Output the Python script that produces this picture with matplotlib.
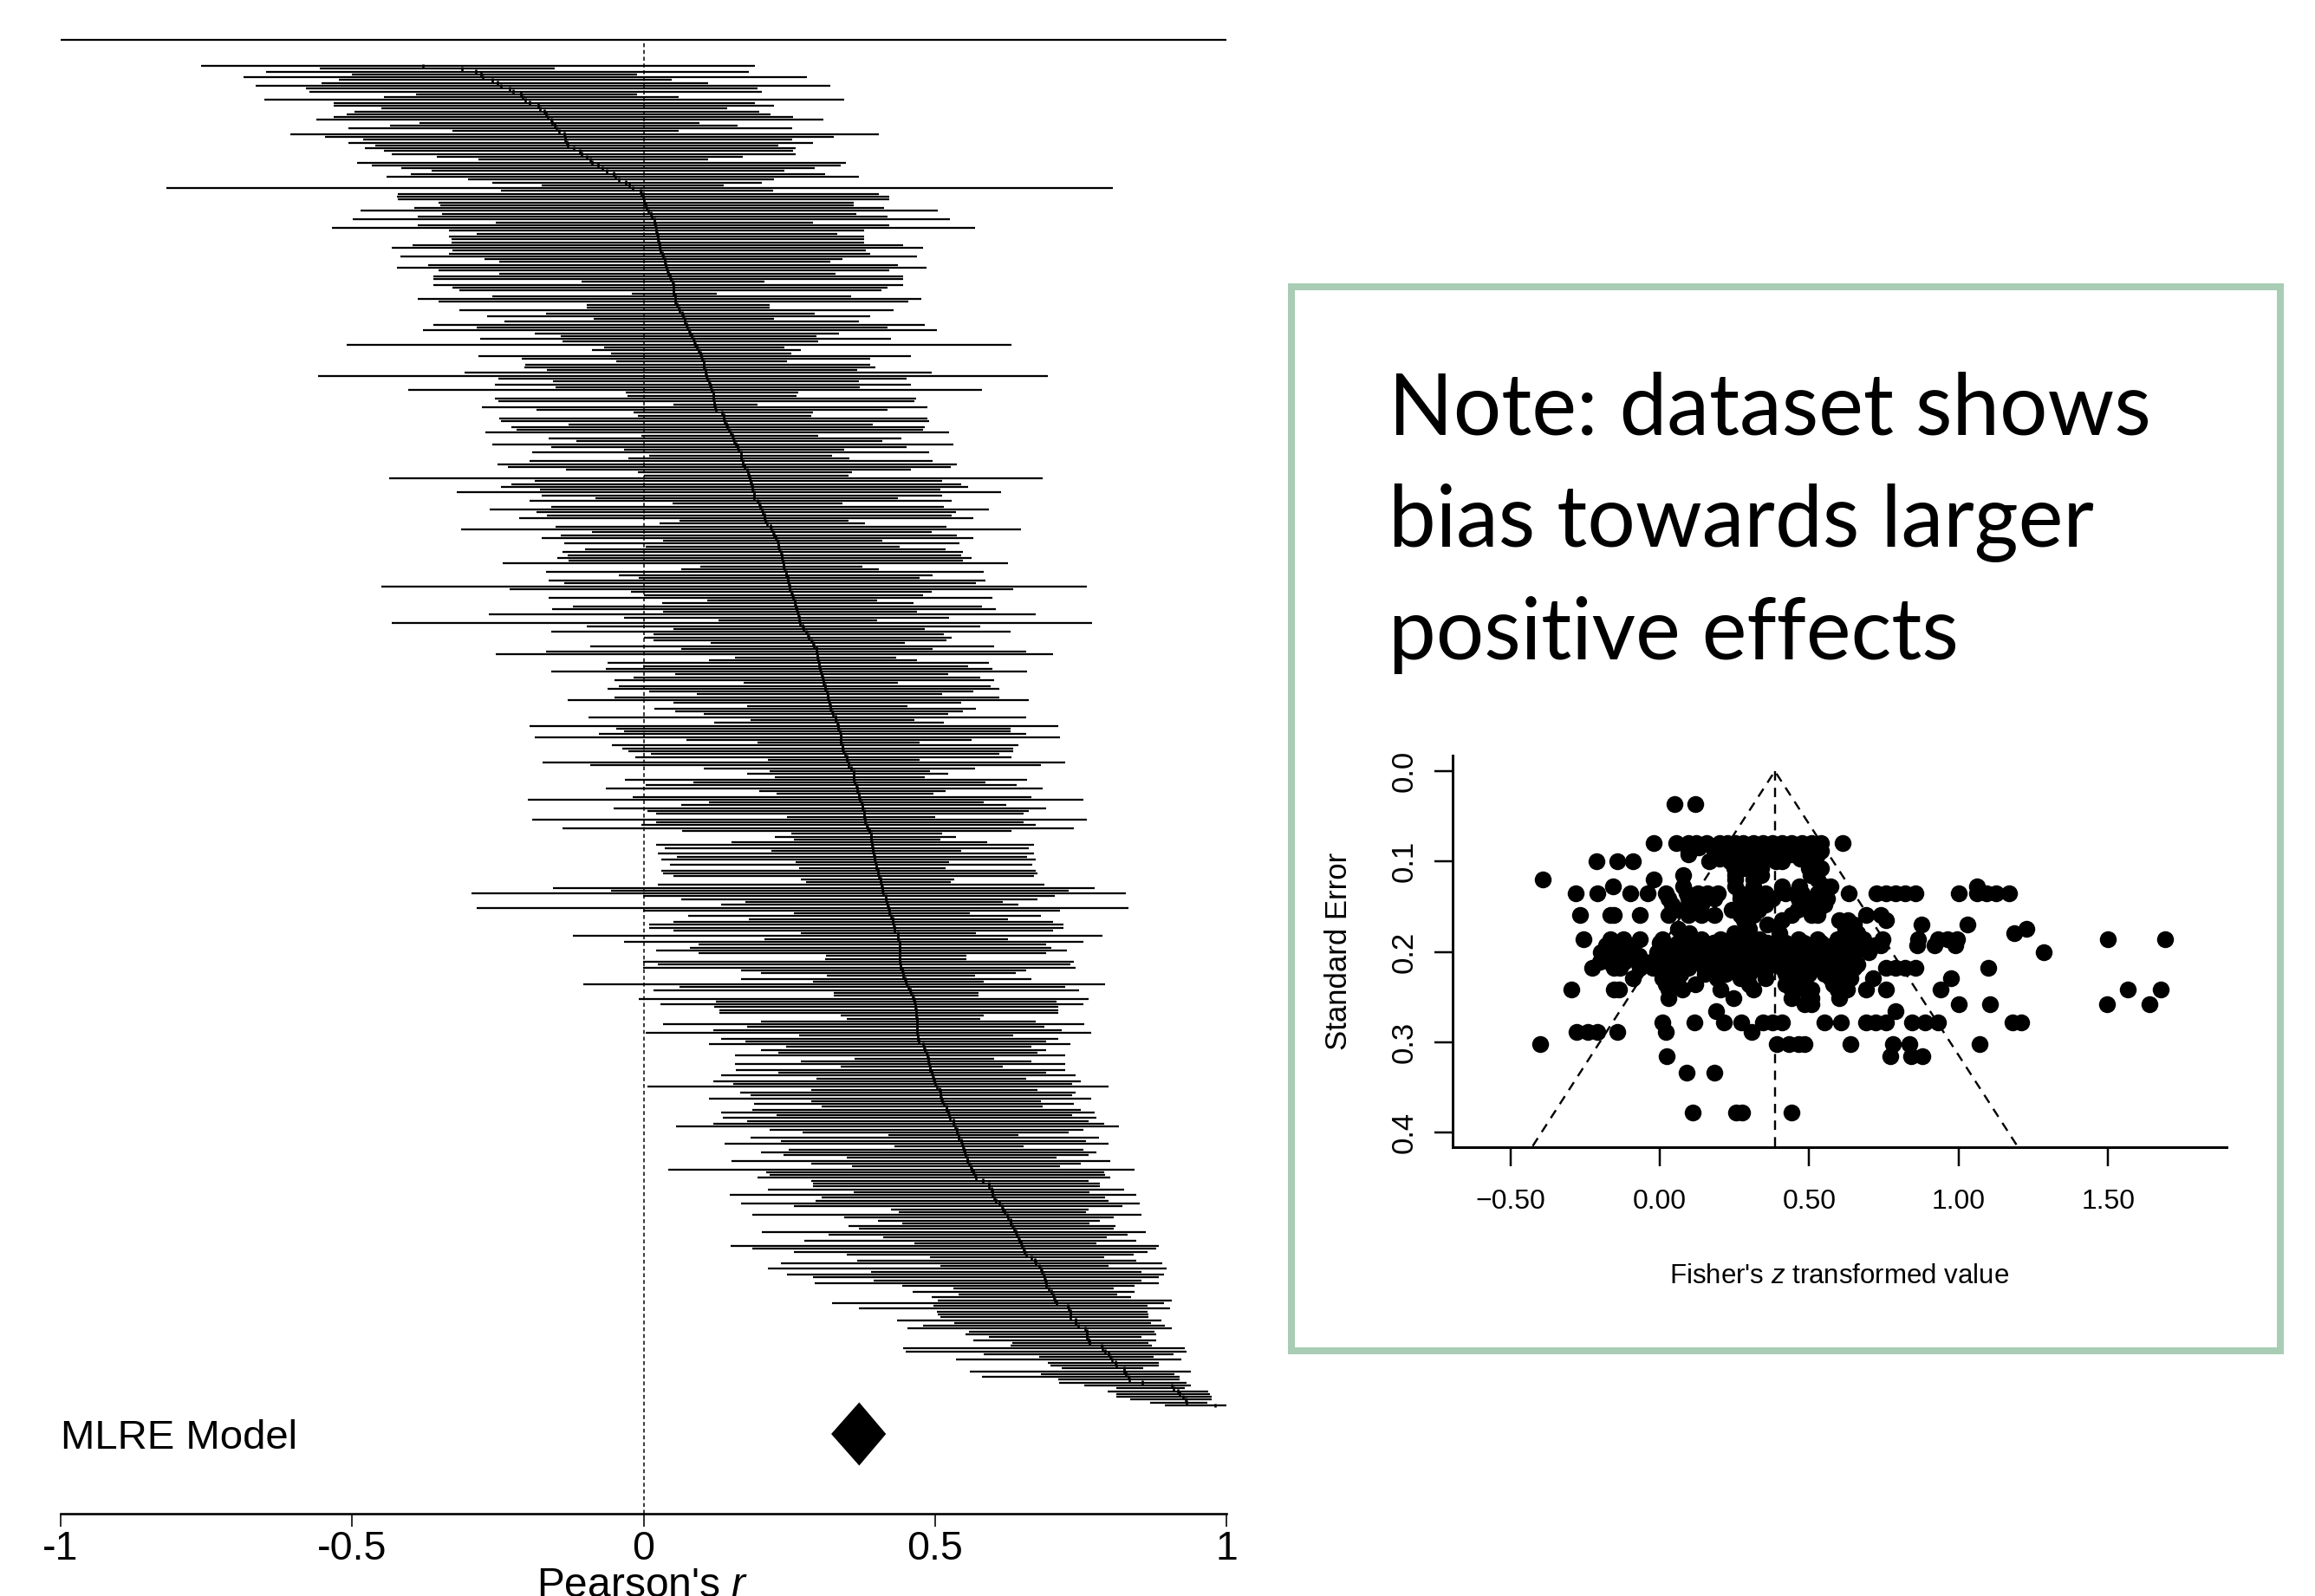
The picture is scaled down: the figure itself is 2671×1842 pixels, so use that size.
import numpy as np
import matplotlib
matplotlib.use("Agg")
import matplotlib.pyplot as plt
from matplotlib.patches import Rectangle

# ---------- forest plot data (Pearson's r), one entry per study, top to bottom ----------
r_lower = [
-.759,-.555,-.648,-.501,-.686,-.522,-.552,-.666,-.579,-.573,
-.390,-.446,-.651,-.532,-.532,-.450,-.496,-.510,-.532,-.561,
-.385,-.435,-.506,-.328,-.606,-.546,-.481,-.506,-.460,-.478,
-.446,-.432,-.355,-.283,-.492,-.466,-.415,-.364,-.399,-.441,
-.301,-.259,-.175,-.819,
-.245,-.422,-.423,-.421,-.352,-.349,-.394,-.486,-.346,-.388,
-.499,-.254,-.388,-.534,-.334,-.286,-.334,-.330,-.330,-.397,
-.432,-.328,-.334,-.417,-.273,-.247,-.370,-.423,-.352,-.247,
-.361,-.361,-.107,-.361,-.328,-.316,-.020,-.259,-.388,-.352,
-.098,-.098,-.316,-.168,-.268,-.085,-.239,-.361,-.286,-.379,
-.186,-.142,-.281,-.139,-.510,-.068,
-.088,-.056,-.283,-.209,-.047,-.203,-.205,-.166,-.307,-.559,
-.249,-.156,-.255,-.151,-.403,-.031,-.028,-.255,-.249,.052,
-.277,-.184,-.017,-.010,-.247,-.245,-.128,-.227,-.218,-.272,
-.004,-.163,-.115,-.259,-.159,-.034,-.191,.010,-.026,-.195,
-.250,-.232,-.133,-.010,0,-.437,-.186,-.227,-.245,-.177,
-.321,-.175,-.083,-.195,.050,-.159,-.264,-.184,-.166,-.213,
.061,.028,-.151,-.313,-.088,-.142,-.175,.034,-.136,.004,
-.101,-.139,-.130,-.148,-.128,-.241,.097,.065,-.168,-.043,
-.008,-.163,-.136,-.450,-.230,-.022,.001,-.163,.110,.032,
-.121,-.157,.034,-.265,-.034,.128,-.432,-.097,.052,-.159,
.017,.001,.017,
.115,-.092,.065,-.168,-.254,.157,.112,-.061,-.001,-.065,
-.159,.055,-.017,-.050,.172,-.043,-.061,.010,.091,-.050,
-.130,.052,.177,.019,.055,.103,-.094,.184,.121,-.195,
-.047,-.034,-.077,-.186,.074,.195,-.055,-.037,-.026,.013,
-.014,.213,-.173,-.092,.103,.217,.177,.226,-.032,.085,
.004,-.065,.199,.228,-.019,-.199,.112,.065,-.052,.006,
.022,.246,-.191,.022,-.004,-.139,.066,.253,.226,.258,
.151,.022,.037,.219,.024,.057,.031,.261,.046,.267,
.031,.033,.052,.270,.279,.024,-.156,-.056,-.295,-.001,
.065,.175,.133,-.286,-.001,.258,.077,.181,.052,.010,
.010,.052,.270,
-.121,.208,-.034,.094,.079,.022,.094,.313,.311,-.001,
.024,-.001,.168,.202,.315,.168,.291,-.103,.061,.017,
.327,.327,-.008,.124,.029,.121,.130,.130,.339,.348,
.202,.034,.177,.119,.004,.267,.133,.175,.112,.244,
.202,.231,.157,.362,.270,.157,.338,.159,.231,.133,
.297,.119,.154,.006,.288,.166,.184,.112,.288,.190,
.306,.186,.133,.228,.136,.177,.119,.056,.217,.273,
.420,.184,.235,.139,.431,.249,.202,.240,.348,.151,
.288,.357,.043,.210,.217,.195,.288,.291,.291,.213,
.360,.148,.306,.295,.168,.258,.425,.438,.186,.344,
.402,.444,.351,.369,
.203,.318,.411,.276,.464,.149,.186,.258,.348,.491,
.366,.235,.509,.213,.390,.246,.291,.395,.293,.444,
.531,.462,.540,.495,.505,.324,.497,.369,.504,.505,
.509,.435,.533,.480,.453,.559,.552,.593,.566,.633,
.629,.446,.450,.584,.679,.536,.693,.698,.718,.560,
.682,.580,.712,.713,.756,.811,.796,.811,.811,.835,
.869,.894]

r_upper = [
.191,-.152,.180,-.011,.281,.048,.111,.320,.195,.203,
-.011,.060,.344,.191,.224,.144,.198,.218,.256,.309,
.096,.162,.255,.060,.404,.327,.255,.290,.231,.261,
.256,.261,.171,.111,.347,.338,.293,.242,.311,.369,
.224,.203,.138,.805,
.222,.404,.422,.422,.360,.360,.413,.505,.365,.418,
.526,.291,.422,.569,.378,.333,.378,.378,.378,.446,
.480,.381,.389,.469,.342,.320,.436,.485,.422,.329,
.445,.445,.207,.445,.418,.408,.126,.356,.476,.454,
.216,.216,.429,.293,.389,.224,.369,.482,.418,.503,
.335,.296,.425,.300,.631,.242,
.270,.253,.458,.389,.246,.389,.398,.366,.494,.694,
.452,.369,.458,.371,.580,.265,.263,.467,.464,.195,
.487,.418,.291,.288,.487,.490,.393,.482,.480,.524,
.300,.443,.409,.531,.452,.344,.490,.324,.353,.496,
.538,.527,.458,.357,.351,.685,.513,.545,.557,.509,
.614,.513,.436,.529,.342,.515,.593,.536,.529,.566,
.351,.380,.520,.647,.494,.538,.566,.409,.542,.440,
.518,.548,.545,.563,.548,.625,.375,.404,.584,.496,
.473,.587,.571,.760,.634,.494,.480,.598,.401,.463,
.580,.605,.469,.673,.524,.401,.769,.578,.482,.629,
.515,.529,.520,
.449,.602,.496,.656,.703,.434,.469,.593,.557,.598,
.658,.522,.578,.602,.436,.596,.611,.566,.513,.611,
.661,.545,.453,.571,.548,.522,.656,.464,.515,.712,
.629,.629,.656,.714,.563,.473,.643,.634,.634,.611,
.631,.473,.723,.682,.569,.491,.522,.482,.658,.587,
.640,.685,.518,.497,.665,.754,.584,.622,.691,.661,
.652,.500,.760,.652,.673,.739,.631,.513,.536,.509,
.589,.670,.661,.545,.670,.658,.673,.524,.667,.518,
.673,.676,.670,.533,.527,.688,.774,.730,.828,.705,
.676,.616,.643,.832,.714,.560,.682,.625,.703,.721,
.721,.703,.571,
.787,.625,.754,.691,.700,.727,.691,.554,.554,.739,
.732,.741,.656,.638,.569,.665,.584,.792,.723,.747,
.575,.575,.763,.709,.754,.712,.712,.712,.584,.578,
.673,.756,.688,.718,.768,.634,.712,.691,.732,.665,
.691,.676,.723,.602,.665,.723,.616,.723,.691,.741,
.656,.750,.736,.798,.676,.741,.736,.768,.682,.739,
.685,.750,.774,.736,.777,.763,.790,.816,.754,.730,
.643,.781,.759,.798,.652,.754,.777,.763,.709,.801,
.750,.714,.843,.790,.792,.801,.763,.783,.783,.825,
.765,.846,.792,.798,.852,.821,.763,.759,.855,.807,
.783,.765,.810,.807,
.861,.830,.795,.846,.777,.884,.879,.864,.841,.790,
.846,.890,.798,.897,.855,.893,.884,.855,.884,.843,
.807,.843,.813,.837,.906,.893,.864,.904,.864,.866,
.866,.888,.870,.895,.906,.876,.879,.855,.879,.866,
.872,.929,.932,.909,.875,.923,.884,.884,.857,.939,
.911,.920,.920,.932,.939,.929,.969,.972,.974,.974,
.968,1.0]

r_est = [
-.379,-.311,-.288,-.279,-.276,-.260,-.250,-.245,-.230,-.224,
-.210,-.208,-.203,-.196,-.180,-.177,-.171,-.168,-.165,-.158,
-.157,-.153,-.149,-.145,-.136,-.135,-.134,-.131,-.130,-.120,
-.110,-.106,-.098,-.091,-.088,-.078,-.070,-.063,-.051,-.048,
-.043,-.031,-.024,-.018,
-.005,-.003,-.001,0,.001,.004,.005,.008,.013,.014,
.018,.019,.020,.022,.022,.023,.024,.024,.026,.027,
.028,.029,.032,.033,.036,.037,.038,.040,.041,.043,
.046,.047,.050,.051,.052,.052,.052,.054,.055,.055,
.057,.060,.061,.066,.068,.070,.071,.073,.075,.078,
.079,.082,.085,.087,.088,.091,
.094,.098,.099,.101,.103,.103,.103,.106,.106,.108,
.110,.112,.114,.115,.117,.119,.119,.120,.121,.121,
.122,.124,.135,.138,.138,.139,.142,.143,.147,.149,
.152,.154,.156,.158,.162,.163,.167,.168,.168,.170,
.171,.173,.177,.179,.180,.182,.184,.185,.186,.187,
.189,.189,.190,.195,.198,.200,.203,.204,.207,.208,
.209,.212,.218,.219,.223,.224,.227,.230,.231,.231,
.232,.235,.237,.237,.239,.240,.240,.242,.244,.245,
.247,.247,.249,.250,.251,.254,.255,.256,.259,.260,
.261,.263,.264,.265,.267,.267,.269,.273,.274,.279,
.282,.284,.287,
.290,.292,.296,.297,.298,.298,.300,.301,.301,.302,
.304,.305,.307,.309,.309,.311,.311,.314,.316,.316,
.318,.319,.320,.321,.324,.325,.329,.330,.333,.334,
.334,.337,.338,.338,.339,.339,.341,.342,.343,.346,
.348,.349,.351,.352,.356,.360,.360,.361,.361,.362,
.365,.367,.367,.369,.370,.371,.374,.375,.376,.378,
.379,.379,.380,.380,.383,.384,.388,.390,.390,.390,
.392,.392,.393,.394,.395,.397,.397,.398,.399,.399,
.402,.402,.403,.406,.407,.408,.409,.409,.411,.415,
.416,.417,.418,.420,.421,.422,.425,.427,.427,.429,
.430,.431,.436,
.437,.437,.439,.439,.439,.439,.439,.439,.440,.440,
.441,.441,.444,.445,.446,.448,.450,.452,.454,.457,
.458,.462,.463,.464,.466,.466,.467,.468,.468,.469,
.469,.469,.469,.469,.469,.471,.471,.472,.480,.481,
.483,.485,.487,.489,.489,.490,.491,.492,.494,.496,
.497,.499,.500,.503,.508,.509,.510,.511,.513,.515,
.519,.520,.523,.524,.526,.531,.532,.534,.537,.538,
.540,.541,.545,.547,.548,.550,.551,.552,.555,.556,
.559,.561,.563,.566,.569,.570,.582,.592,.593,.597,
.598,.599,.602,.605,.610,.615,.616,.620,.624,.626,
.629,.630,.633,.635,
.639,.640,.643,.644,.647,.649,.652,.654,.657,.665,
.671,.673,.679,.682,.684,.686,.688,.689,.690,.691,
.695,.699,.702,.704,.705,.709,.728,.730,.732,.733,
.733,.741,.742,.745,.758,.760,.760,.761,.763,.765,
.786,.787,.792,.798,.800,.804,.809,.811,.824,.825,
.828,.832,.834,.856,.907,.909,.917,.920,.926,.930,
.931,.980]

model_est = 0.37
model_lo = 0.322
model_hi = 0.416
forest_ticks = [-1, -0.5, 0, 0.5, 1]
forest_ticklabels = ['-1', '-0.5', '0', '0.5', '1']

# ---------- funnel plot data: standard error level and Fisher's z values read at that level ----------
se_levels = [.036,.08,.088,.0925,.1,.115,.12,.128,.135,.141,.148,.159,.165,.17,.175,.179,.186,.193,.2,.207,
             .214,.218,.229,.236,.242,.251,.258,.266,.278,.289,.302,.316,.334,.378,
             .084,.097,.107,.153,.19,.197,.204,.211,.224]
z_by_level = [
[.05,.12],
[-.02,.056,.095,.121,.156,.199,.225,.251,.277,.312,.345,.377,.41,.442,.475,.507,.54,.611],
[.095,.182,.236,.29,.399,.442,.485,.54],
[.095,.225,.29,.388,.442,.529],
[-.212,-.143,-.089,.165,.236,.306,.388,.41],
[.078,.251,.338,.505],
[-.392,-.02,.251,.312,.529],
[-.156,.078,.251,.312,.41,.468,.55,.572,1.06],
[-.28,-.21,-.098,-.041,.02,.091,.128,.16,.193,.269,.323,.355,.42,.475,.529,.631,.724,.756,.789,.821,.854,1.001,1.06,1.092,1.125,1.168],
[.03,.095,.182,.269,.312,.377,.464,.529,.56],
[.04,.139,.29,.355,.507,.55],
[-.267,-.165,-.154,-.067,.03,.095,.139,.182,.269,.312,.442,.507,.529,.69,.74],
[.756,.6,.28,.41,.63],
[.875,1.03,.65,.36],
[1.226,.06,.30,.62],
[1.185,.25,.10,.40,.66],
[-.255,-.165,-.121,-.067,.009,.074,.139,.204,.269,.334,.399,.464,.529,.594,.68,.746,.865,.93,.962,.995,1.5,1.69],
[-.18,-.14,-.1,.01,.05,.11,.16,.22,.27,.33,.39,.44,.5,.55,.61,.66,.72,.74,.86,.92,.99],
[-.197,-.143,-.10,-.01,.03,.08,.14,.2,.25,.29,.34,.4,.45,.49,.55,.6,.65,.7,1.283],
[-.18,-.13,.03,.09,.15,.21,.27,.33,.39,.45,.51,.57,.62],
[-.16,-.13,-.07,.0,.04,.1,.16,.22,.27,.32,.38,.43,.49,.55,.6,.66],
[-.226,-.154,-.133,-.067,-.024,.03,.095,.149,.204,.269,.355,.41,.464,.529,.594,.65,.756,.789,.821,.854,1.1],
[-.089,.009,.04,.19,.269,.355,.464,.572,.637,.713,.973],
[.02,.06,.12,.3,.42,.58,.62],
[-.295,-.154,-.137,.03,.074,.204,.312,.442,.485,.507,.594,.626,.69,.756,.94,1.565,1.677],
[.03,.247,.442,.507,.6],
[.485,.507,1.0,1.106,1.495,1.638],
[.188,.789],
[.009,.117,.214,.273,.345,.377,.41,.551,.605,.69,.722,.756,.843,.887,.93,1.179,1.21],
[-.277,-.241,-.208,-.141,.02,.306],
[-.4,.392,.431,.464,.485,.637,.78,.835,1.07],
[.024,.77,.842,.879],
[.089,.182],
[.111,.254,.276,.442],
[.13,.21,.26,.32,.36,.42,.46,.5],
[.2,.26,.33,.36,.4,.47,.52],
[.25,.28,.31,.34,.5,.54],
[.06,.1,.24,.27,.31,.33,.46,.5,.53],
[.0,.06,.12,.18,.24,.3,.36,.42,.48,.54,.6,.64],
[-.15,.0,.06,.11,.17,.23,.28,.36,.42,.47,.53,.58,.63,.67],
[-.16,-.07,.02,.06,.12,.18,.24,.31,.37,.43,.48,.53,.58,.64],
[-.2,-.12,-.03,.02,.07,.13,.19,.25,.3,.36,.41,.47,.52,.57,.63],
[.04,.07,.15,.22,.3,.35,.42,.5,.55,.59,.63],
]
funnel_center = 0.385
funnel_se_max = 0.415
funnel_left = -0.425
funnel_right = 1.196
funnel_xticks = [-0.5, 0, 0.5, 1, 1.5]
funnel_xticklabels = ['\u22120.50', '0.00', '0.50', '1.00', '1.50']
funnel_yticks = [0, 0.1, 0.2, 0.3, 0.4]
funnel_yticklabels = ['0.0', '0.1', '0.2', '0.3', '0.4']

note_lines = ["Note: dataset shows", "bias towards larger", "positive effects"]

# ---------- layout ----------
W, H = 2671, 1842
DPI = 100
plt.rcParams['font.family'] = ['Liberation Sans', 'DejaVu Sans']
plt.rcParams['mathtext.fontset'] = 'custom'
plt.rcParams['mathtext.it'] = 'Liberation Sans:italic'
plt.rcParams['mathtext.rm'] = 'Liberation Sans'
fig = plt.figure(figsize=(W / DPI, H / DPI), dpi=DPI, facecolor='white')
px = 72 / DPI  # points per pixel


def axes_px(x0, y0, x1, y1):
    return fig.add_axes([x0 / W, 1 - y1 / H, (x1 - x0) / W, (y1 - y0) / H])


# ---------- forest plot ----------
n = min(len(r_lower), len(r_upper), len(r_est))
rows = np.arange(n)
AX_TOP, AX_BOT, FIRST, LAST = 46, 1747, 76, 1622
row_h = (LAST - FIRST) / (n - 1)
ax = axes_px(70, AX_TOP, 1415, AX_BOT)
ax.set_xlim(-1, 1)
ax.set_ylim((AX_BOT - FIRST) / row_h, (AX_TOP - FIRST) / row_h)
ax.patch.set_visible(False)
for s in ('left', 'right', 'top'):
    ax.spines[s].set_visible(False)
ax.spines['bottom'].set_linewidth(2.6 * px)
ax.set_yticks([])
ax.set_xticks(forest_ticks)
ax.set_xticklabels(forest_ticklabels, fontsize=33.5)
ax.tick_params(axis='x', length=15 * px, width=1.6 * px, pad=4 * px, color='black')

ax.axvline(0, color='black', lw=1.5 * px, dashes=(3, 2.2), zorder=1)
ax.hlines(rows, np.array(r_lower[:n]), np.array(r_upper[:n]), color='black', lw=2.25 * px, zorder=2)
ax.vlines(np.array(r_est[:n]), rows - 0.75, rows + 0.75, color='black', lw=2.6 * px, zorder=3)
ax.hlines((AX_TOP - FIRST) / row_h, -1, 1, color='black', lw=2.2 * px, zorder=2, clip_on=False)

# summary diamond
ymid = (1655 - FIRST) / row_h
yh = 36.5 / row_h
ax.fill([model_lo, model_est, model_hi, model_est], [ymid, ymid - yh, ymid, ymid + yh],
        color='black', lw=0, zorder=3)
fig.text(70 / W, 1 - 1672 / H, "MLRE Model", fontsize=34, ha='left', va='baseline')
fig.text(741 / W, 1 - 1843 / H, "Pearson's $\\mathit{r}$", fontsize=34.5, ha='center', va='baseline')

# ---------- note panel ----------
fig.add_artist(Rectangle((1490 / W, 1 - 1559 / H), (2631 - 1490) / W, (1559 - 331) / H,
                         transform=fig.transFigure, fill=False, edgecolor='#A9CCB5', lw=8 * px))
for txt, base in zip(note_lines, (501, 631, 761)):
    fig.text(1602 / W, 1 - base / H, txt, fontsize=70.5, family='Lato', ha='left', va='baseline', color='black')

# ---------- funnel plot ----------
x0f, x1f, y0f, y1f = 1676, 2569, 872, 1324
zpx, ypx = 344.9, 1042.5
ax2 = axes_px(x0f, y0f, x1f, y1f)
ax2.set_xlim((x0f - 1915) / zpx, (x1f - 1915) / zpx)
ax2.set_ylim((y1f - 890) / ypx, (y0f - 890) / ypx)
ax2.patch.set_visible(False)
for s in ('right', 'top'):
    ax2.spines[s].set_visible(False)
for s in ('left', 'bottom'):
    ax2.spines[s].set_linewidth(3 * px)
ax2.set_xticks(funnel_xticks)
ax2.set_xticklabels(funnel_xticklabels, fontsize=23)
ax2.set_yticks(funnel_yticks)
ax2.set_yticklabels(funnel_yticklabels, fontsize=25, rotation=90, va='center')
ax2.tick_params(axis='x', length=22 * px, width=2.5 * px, pad=26 * px)
ax2.tick_params(axis='y', length=21 * px, width=2.5 * px, pad=18 * px)
dash = dict(color='black', lw=2.4 * px, dashes=(4.5, 3.5), zorder=1)
ax2.plot([funnel_left, funnel_center, funnel_right], [funnel_se_max, 0, funnel_se_max], **dash)
ax2.plot([funnel_center, funnel_center], [0, funnel_se_max], **dash)
zs = [z for lvl in z_by_level for z in lvl]
ses = [se for se, lvl in zip(se_levels, z_by_level) for _ in lvl]
ax2.scatter(zs, ses, s=(19.5 * px) ** 2, color='black', lw=0, zorder=2, clip_on=False)
fig.text(2122 / W, 1 - 1473 / H, "Fisher's $\\mathit{z}$ transformed value", fontsize=22.5, ha='center', va='center')
fig.text(1545 / W, 1 - 1098 / H, "Standard Error", fontsize=25, rotation=90, ha='center', va='center')

fig.savefig("out.png", dpi=DPI, facecolor='white')
